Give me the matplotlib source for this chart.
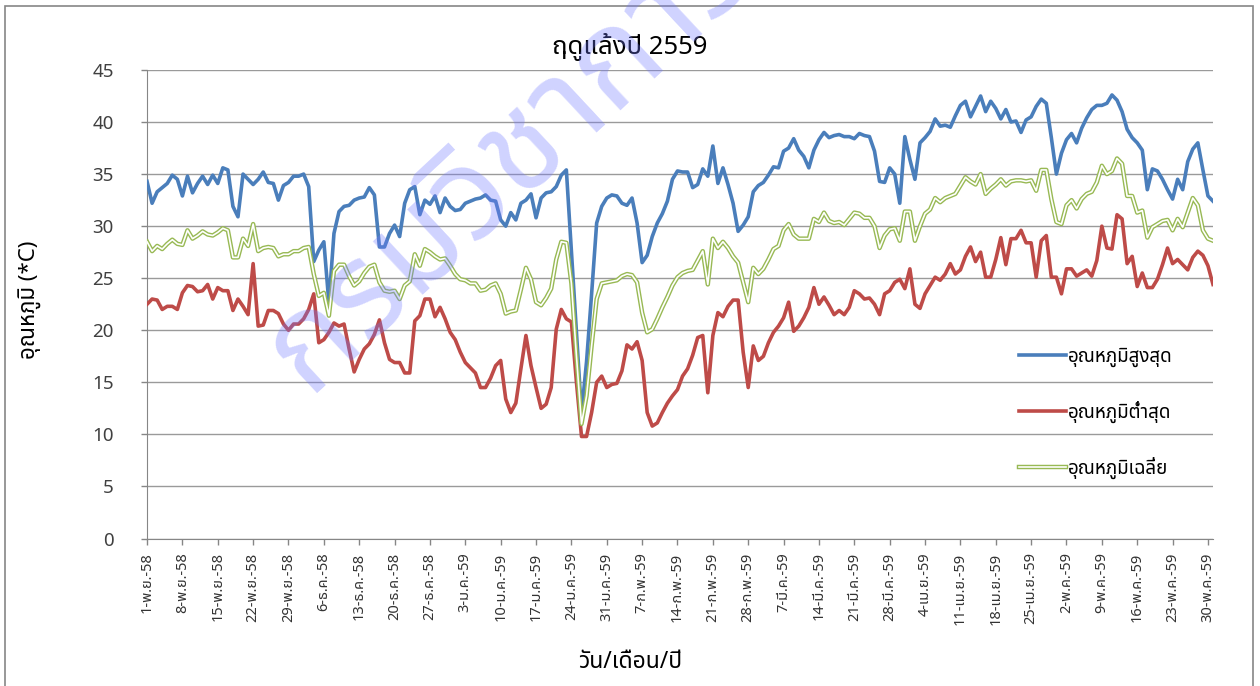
import matplotlib
matplotlib.use('Agg')
import matplotlib.pyplot as plt
import numpy as np
from matplotlib import font_manager
from matplotlib.ft2font import FT2Font
from matplotlib.patches import Rectangle

# daily temperatures, 1 Nov 2558 - 30 May 2559 (212 days)
t_max = [34.3, 32.2, 33.3, 33.7, 34.1, 34.9, 34.5, 32.9, 34.8, 33.2,
         34.1, 34.8, 34.0, 34.9, 34.1, 35.6, 35.4, 31.9, 30.9, 35.0,
         34.5, 34.0, 34.5, 35.2, 34.2, 34.1, 32.5, 33.9, 34.2, 34.8,
         34.8, 35.0, 33.8, 26.6, 27.7, 28.5, 22.6, 29.3, 31.4, 31.9,
         32.0, 32.5, 32.7, 32.8, 33.7, 33.0, 28.0, 28.0, 29.3, 30.1,
         29.0, 32.2, 33.5, 33.8, 31.1, 32.5, 32.1, 32.9, 31.3, 32.7,
         31.9, 31.5, 31.6, 32.2, 32.4, 32.6, 32.7, 33.0, 32.5, 32.4,
         30.6, 30.0, 31.3, 30.6, 32.2, 32.5, 33.1, 30.8, 32.7, 33.2,
         33.3, 33.8, 34.9, 35.4, 27.6, 19.8, 12.0, 17.0, 23.5, 30.3,
         31.9, 32.7, 33.0, 32.9, 32.2, 32.0, 32.7, 30.3, 26.5, 27.2,
         29.0, 30.3, 31.2, 32.4, 34.5, 35.3, 35.2, 35.2, 33.7, 34.0,
         35.5, 34.8, 37.7, 34.1, 35.6, 34.0, 32.2, 29.5, 30.1, 30.9,
         33.3, 33.9, 34.2, 34.9, 35.7, 35.6, 37.2, 37.5, 38.4, 37.3,
         36.7, 35.6, 37.3, 38.3, 39.0, 38.5, 38.7, 38.8, 38.6, 38.6,
         38.4, 38.9, 38.7, 38.6, 37.2, 34.3, 34.2, 35.6, 35.0, 32.2,
         38.6, 36.4, 34.5, 38.0, 38.5, 39.1, 40.3, 39.6, 39.7, 39.5,
         40.6, 41.6, 42.0, 40.5, 41.5, 42.5, 41.0, 42.0, 41.3, 40.3,
         41.2, 40.0, 40.1, 39.0, 40.2, 40.5, 41.5, 42.2, 41.8, 38.5,
         35.0, 37.0, 38.3, 38.9, 38.0, 39.4, 40.4, 41.2, 41.6, 41.6,
         41.8, 42.6, 42.1, 41.0, 39.3, 38.5, 38.0, 37.3, 33.5, 35.5,
         35.3, 34.5, 33.5, 32.6, 34.5, 33.5, 36.2, 37.4, 38.0, 35.4,
         32.9, 32.4]

t_min = [22.5, 23.0, 22.9, 22.0, 22.3, 22.3, 22.0, 23.6, 24.3, 24.2,
         23.7, 23.8, 24.4, 23.0, 24.1, 23.8, 23.8, 21.9, 23.0, 22.3,
         21.5, 26.4, 20.4, 20.5, 21.9, 21.9, 21.6, 20.6, 20.0, 20.6,
         20.6, 21.1, 22.0, 23.5, 18.8, 19.1, 19.8, 20.7, 20.4, 20.6,
         18.2, 16.0, 17.2, 18.2, 18.7, 19.6, 21.0, 18.8, 17.2, 16.9,
         16.9, 15.9, 15.9, 20.9, 21.4, 23.0, 23.0, 21.3, 22.2, 21.1,
         19.8, 19.1, 17.9, 16.9, 16.4, 15.9, 14.5, 14.5, 15.4, 16.6,
         17.1, 13.4, 12.1, 13.0, 16.3, 19.5, 16.6, 14.5, 12.5, 12.9,
         14.5, 20.1, 22.0, 21.1, 20.8, 15.0, 9.8, 9.8, 12.1, 15.0,
         15.6, 14.5, 14.8, 14.9, 16.1, 18.6, 18.2, 18.9, 17.1, 12.1,
         10.8, 11.1, 12.1, 13.0, 13.7, 14.3, 15.6, 16.3, 17.6, 19.3,
         19.5, 14.0, 19.5, 21.7, 21.3, 22.3, 22.9, 22.9, 17.9, 14.5,
         18.5, 17.1, 17.5, 18.8, 19.8, 20.4, 21.2, 22.7, 19.9, 20.4,
         21.2, 22.2, 24.1, 22.5, 23.2, 22.4, 21.5, 21.9, 21.5, 22.2,
         23.8, 23.5, 23.0, 23.1, 22.5, 21.5, 23.5, 23.8, 24.6, 24.9,
         24.0, 25.9, 22.5, 22.1, 23.5, 24.3, 25.1, 24.8, 25.4, 26.4,
         25.4, 25.8, 27.1, 28.0, 26.6, 27.5, 25.1, 25.1, 26.8, 28.9,
         26.3, 28.8, 28.8, 29.6, 28.4, 28.4, 25.1, 28.6, 29.1, 25.1,
         25.1, 23.5, 25.9, 25.9, 25.2, 25.5, 25.8, 25.2, 26.7, 30.0,
         27.9, 27.8, 31.1, 30.7, 26.4, 27.1, 24.2, 25.5, 24.1, 24.1,
         24.9, 26.3, 27.9, 26.4, 26.8, 26.3, 25.8, 27.0, 27.6, 27.2,
         26.2, 24.4]

t_avg = [28.5, 27.6, 28.1, 27.8, 28.3, 28.7, 28.3, 28.2, 29.6, 28.8,
         29.1, 29.5, 29.2, 29.1, 29.4, 29.8, 29.6, 27.0, 27.0, 28.8,
         28.1, 30.2, 27.6, 27.9, 28.0, 27.9, 27.1, 27.3, 27.3, 27.6,
         27.6, 27.9, 28.0, 25.4, 23.3, 23.6, 21.4, 25.7, 26.3, 26.3,
         25.2, 24.3, 24.7, 25.5, 26.1, 26.3, 24.6, 23.8, 23.7, 23.8,
         23.0, 24.3, 24.7, 27.3, 26.2, 27.8, 27.5, 27.1, 26.8, 26.9,
         26.2, 25.4, 24.9, 24.8, 24.5, 24.5, 23.8, 23.9, 24.3, 24.5,
         23.5, 21.6, 21.8, 21.9, 23.9, 26.0, 24.9, 22.7, 22.4, 23.1,
         24.0, 26.8, 28.5, 28.4, 24.5, 17.5, 11.0, 13.7, 18.5, 23.0,
         24.5, 24.6, 24.7, 24.8, 25.2, 25.4, 25.3, 24.6, 21.7, 19.8,
         20.1, 21.1, 22.2, 23.2, 24.3, 25.1, 25.5, 25.7, 25.8, 26.7,
         27.6, 24.4, 28.8, 27.9, 28.5, 27.9, 27.1, 26.5, 24.6, 22.7,
         26.0, 25.4, 25.9, 26.8, 27.8, 28.1, 29.6, 30.2, 29.2, 28.8,
         28.8, 28.8, 30.7, 30.4, 31.3, 30.5, 30.3, 30.4, 30.1, 30.7,
         31.3, 31.2, 30.8, 30.8, 30.0, 27.9, 29.1, 29.7, 29.8, 28.6,
         31.4, 31.4, 28.6, 30.0, 31.2, 31.6, 32.7, 32.3, 32.7, 32.9,
         33.1, 33.9, 34.7, 34.3, 34.0, 35.0, 33.1, 33.6, 34.0, 34.5,
         33.9, 34.3, 34.4, 34.4, 34.3, 34.4, 33.4, 35.4, 35.4, 32.6,
         30.4, 30.2, 32.0, 32.5, 31.7, 32.6, 33.1, 33.3, 34.2, 35.8,
         35.0, 35.3, 36.5, 36.0, 32.9, 32.9, 31.3, 31.5, 28.9, 29.9,
         30.2, 30.5, 30.6, 29.6, 30.7, 29.9, 31.3, 32.7, 32.0, 29.6,
         28.8, 28.6]

tick_labels = ['1-พ.ย.-58', '8-พ.ย.-58', '15-พ.ย.-58', '22-พ.ย.-58', '29-พ.ย.-58',
               '6-ธ.ค.-58', '13-ธ.ค.-58', '20-ธ.ค.-58', '27-ธ.ค.-58',
               '3-ม.ค.-59', '10-ม.ค.-59', '17-ม.ค.-59', '24-ม.ค.-59', '31-ม.ค.-59',
               '7-ก.พ.-59', '14-ก.พ.-59', '21-ก.พ.-59', '28-ก.พ.-59',
               '7-มี.ค.-59', '14-มี.ค.-59', '21-มี.ค.-59', '28-มี.ค.-59',
               '4-เม.ย.-59', '11-เม.ย.-59', '18-เม.ย.-59', '25-เม.ย.-59',
               '2-พ.ค.-59', '9-พ.ค.-59', '16-พ.ค.-59', '23-พ.ค.-59', '30-พ.ค.-59']

series_names = ['อุณหภูมิสูงสุด', 'อุณหภูมิต่ำสุด', 'อุณหภูมิเฉลี่ย']


def find_thai_font():
    # pick any installed font that has Thai glyphs
    found = []
    for f in font_manager.fontManager.ttflist:
        try:
            if 0x0E01 in FT2Font(f.fname).get_charmap():
                found.append(f.name)
        except Exception:
            pass
    for pref in ['Tahoma', 'Leelawadee UI', 'Noto Sans Thai', 'Noto Sans Thai UI',
                 'Loma', 'Garuda', 'Sarabun', 'Waree', 'Umpush', 'Kinnari']:
        if pref in found:
            return pref
    return found[0] if found else None


thai = find_thai_font()
plt.rcParams['font.family'] = ([thai] if thai else []) + ['DejaVu Sans']

blue = '#4A7EBB'
red = '#BE4B48'
green = '#98B954'

fig = plt.figure(figsize=(12.6, 6.86), dpi=100)
ax = fig.add_axes([0.1167, 0.215, 0.846, 0.683])

x = np.arange(len(t_max))
l_max, = ax.plot(x, t_max, color=blue, lw=2.6, solid_joinstyle='round', zorder=4)
l_min, = ax.plot(x, t_min, color=red, lw=2.6, solid_joinstyle='round', zorder=3)
l_avg, = ax.plot(x, t_avg, color=green, lw=3.2, solid_joinstyle='round', zorder=5)
l_avg_in, = ax.plot(x, t_avg, color='white', lw=1.2, solid_joinstyle='round', zorder=6)

ax.set_xlim(0, len(t_max) - 1)
ax.set_ylim(0, 45)
ax.set_yticks(np.arange(0, 46, 5))
ax.set_xticks(np.arange(0, len(t_max), 7))
ax.set_xticklabels(tick_labels, rotation=90, fontsize=10.5, color='#333333')
ax.tick_params(axis='y', labelsize=13.5, colors='#404040', length=4, width=1, pad=20)
ax.tick_params(axis='x', length=4, width=1, pad=6, color='#868686')
ax.tick_params(axis='y', color='#868686')
ax.grid(axis='y', color='#9a9a9a', lw=1)
ax.set_axisbelow(True)
for s in ['top', 'right']:
    ax.spines[s].set_visible(False)
for s in ['left', 'bottom']:
    ax.spines[s].set_color('#868686')

fig.text(0.5, 1 - 47 / 686, 'ฤดูแล้งปี 2559', ha='center', va='center', fontsize=18.5)
fig.text(30 / 1260, 1 - 300 / 686, 'อุณหภูมิ (*C)', rotation=90, ha='center', va='center',
         fontsize=16, fontweight='bold')
fig.text(0.5, 1 - 662 / 686, 'วัน/เดือน/ปี', ha='center', va='center', fontsize=16.5,
         fontweight='bold')

leg = fig.legend([l_max, l_min, (l_avg, l_avg_in)], series_names,
                 loc='upper left', bbox_to_anchor=(1002 / 1260, 1 - 331 / 686),
                 frameon=False, fontsize=13.5, handlelength=2.5, handletextpad=0.1,
                 labelspacing=1.8)

# watermark
fig.text(308 / 1260, 1 - 394 / 686, 'กรมวิชาการเกษตร', rotation=43, rotation_mode='anchor',
         ha='left', va='baseline', fontsize=95, fontweight='bold',
         color='#7078ff', alpha=0.33, zorder=10)

# chart border
fig.patches.append(Rectangle((5 / 1260, -0.02), 1248 / 1260, 1.02 - 6 / 686,
                             transform=fig.transFigure, fill=False,
                             edgecolor='#868686', lw=1.2))

fig.savefig('out.png', dpi=100)
